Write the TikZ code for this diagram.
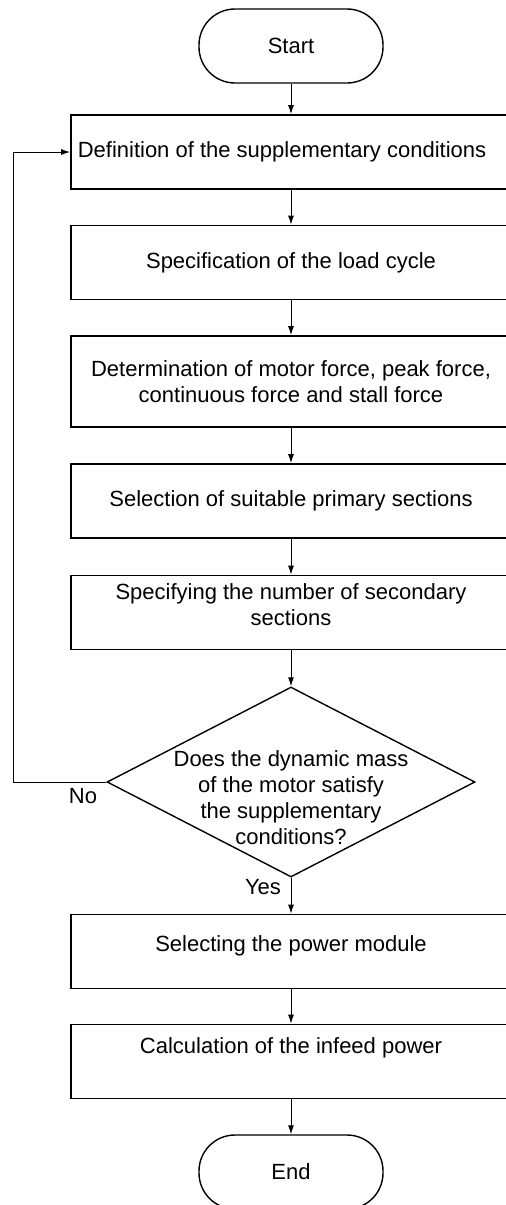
\documentclass[tikz,border=0pt]{standalone}
\usepackage{fontspec}
\setmainfont{Liberation Sans}
\usetikzlibrary{shapes.geometric,arrows.meta}

\begin{document}
\begin{tikzpicture}[x=0.5pt, y=-0.5pt,
    every node/.style={font=\fontsize{11}{13}\selectfont},
    terminal/.style={draw, line width=0.7pt, rounded corners=18pt, minimum width=92pt, minimum height=37pt, inner sep=0pt},
    stepbox/.style={draw, line width=0.9pt, minimum width=220pt, minimum height=37pt, align=center, inner sep=0pt},
    decision/.style={draw, diamond, line width=0.7pt, minimum width=184pt, minimum height=95pt, inner sep=0pt},
    flow/.style={line width=0.5pt, -{Latex[length=4.5pt,width=3pt]}}]
         \useasboundingbox (0,0) rectangle (506,1205);
         \clip (0,0) rectangle (506,1205);

         \node[terminal] (start) at (291,46) {Start};
         \node[stepbox] (def) at (291,152) {Definition of the supplementary conditions\hspace*{9pt}};
         \node[stepbox] (spec) at (291,262.5) {Specification of the load cycle};
         \node[stepbox, minimum height=45.5pt] (force) at (291,381.5) {Determination of motor force, peak force,\\continuous force and stall force};
         \node[stepbox] (prim) at (291,501) {Selection of suitable primary sections};
         \node[stepbox, text depth=7.5pt] (sec) at (291,612.5) {Specifying the number of secondary\\sections};

         \node[decision] (mass) at (291,782) {};
         \node[align=center] (masstext) at (291,798) {Does the dynamic mass\\of the motor satisfy\\the supplementary\\conditions?};

         \node[stepbox, text depth=8pt] (power) at (291,951.5) {Selecting the power module};
         \node[stepbox, text depth=16pt] (infeed) at (291,1061.5) {Calculation of the infeed power};
         \node[terminal] (end) at (291,1172) {End};

         \node (no) at (83,796) {No};
         \node (yes) at (263,887) {Yes};

         \draw[flow] (start) -- (def);
         \draw[flow] (def) -- (spec);
         \draw[flow] (spec) -- (force);
         \draw[flow] (force) -- (prim);
         \draw[flow] (prim) -- (sec);
         \draw[flow] (sec) -- (mass);
         \draw[flow] (mass) -- (power);
         \draw[flow] (power) -- (infeed);
         \draw[flow] (infeed) -- (end);

         \coordinate (back) at (13,782);
         \draw[flow] (mass.west) -- (back) |- (def.west);

    \end{tikzpicture}
\end{document}
